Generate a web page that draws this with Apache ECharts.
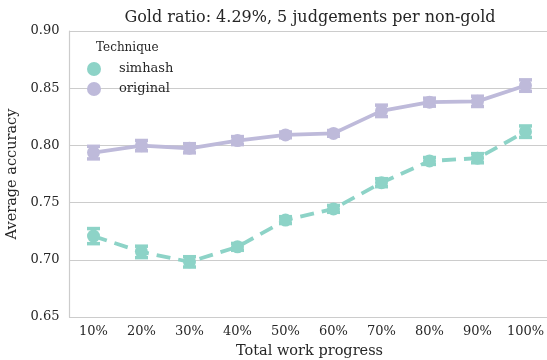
<!DOCTYPE html>
<html>
<head>
<meta charset="utf-8">
<script src="https://cdn.jsdelivr.net/npm/echarts@6/dist/echarts.min.js"></script>
<style>
  html, body { margin: 0; padding: 0; background: #fff; }
  #chart { width: 547px; height: 360px; }
</style>
</head>
<body>
<div id="chart"></div>
<script>
// Accuracy per work-progress step, with half-width of the confidence interval
const categories = ['10%', '20%', '30%', '40%', '50%', '60%', '70%', '80%', '90%', '100%'];
const simhashMean = [0.7207, 0.7069, 0.6982, 0.7113, 0.7347, 0.7445, 0.7674, 0.7864, 0.7888, 0.8120];
const simhashErr  = [0.0066, 0.0050, 0.0045, 0.0030, 0.0030, 0.0030, 0.0035, 0.0030, 0.0040, 0.0050];
const originalMean = [0.7937, 0.7998, 0.7975, 0.8042, 0.8092, 0.8105, 0.8302, 0.8378, 0.8385, 0.8523];
const originalErr  = [0.0055, 0.0045, 0.0040, 0.0035, 0.0025, 0.0025, 0.0050, 0.0035, 0.0045, 0.0050];
const yTicks = [0.65, 0.70, 0.75, 0.80, 0.85, 0.90];

const FONT = 'DejaVu Serif';
const TEXT = '#262626';
const GRID = '#cccccc';
const SIM_COLOR = '#8dd3c7';
const ORIG_COLOR = '#bebada';

function errorData(mean, err) {
  return mean.map((m, i) => [i, m - err[i], m + err[i]]);
}

function errorBars(color) {
  return function (params, api) {
    const x = api.value(0);
    const lo = api.coord([x, api.value(1)]);
    const hi = api.coord([x, api.value(2)]);
    const half = 6.5;
    const style = { stroke: color, lineWidth: 3.5 };
    return {
      type: 'group',
      children: [
        { type: 'line', shape: { x1: lo[0], y1: lo[1], x2: hi[0], y2: hi[1] }, style: style },
        { type: 'line', shape: { x1: lo[0] - half, y1: lo[1], x2: lo[0] + half, y2: lo[1] }, style: style },
        { type: 'line', shape: { x1: hi[0] - half, y1: hi[1], x2: hi[0] + half, y2: hi[1] }, style: style }
      ]
    };
  };
}

const chart = echarts.init(document.getElementById('chart'), null, { renderer: 'canvas' });

chart.setOption({
  animation: false,
  backgroundColor: '#ffffff',
  textStyle: { fontFamily: FONT, color: TEXT },
  title: [
    {
      text: 'Gold ratio: 4.29%, 5 judgements per non-gold',
      left: 305, textAlign: 'center', top: 5,
      textStyle: { fontFamily: FONT, fontSize: 16, fontWeight: 'normal', color: TEXT }
    },
    {
      text: 'Technique',
      left: 91, top: 37,
      textStyle: { fontFamily: FONT, fontSize: 12, fontWeight: 'normal', color: TEXT }
    }
  ],
  legend: {
    data: ['simhash', 'original'],
    orient: 'vertical',
    left: 82, top: 57,
    icon: 'circle',
    itemWidth: 14, itemHeight: 14,
    itemGap: 6,
    textStyle: { fontFamily: FONT, fontSize: 13, color: TEXT, padding: [0, 0, 0, 13] }
  },
  grid: {
    left: 69.5, width: 480, top: 31, height: 286,
    containLabel: false,
    outerBoundsMode: 'none'
  },
  xAxis: {
    type: 'category',
    data: categories,
    boundaryGap: true,
    name: 'Total work progress',
    nameLocation: 'middle',
    nameGap: 27,
    nameTextStyle: { fontFamily: FONT, fontSize: 14.5, color: TEXT },
    axisLine: { show: true, lineStyle: { color: GRID, width: 1.2 } },
    axisTick: { show: false },
    axisLabel: { fontFamily: FONT, fontSize: 13, color: TEXT, margin: 8, interval: 0, hideOverlap: false },
    splitLine: { show: false }
  },
  yAxis: {
    type: 'value',
    min: yTicks[0],
    max: yTicks[yTicks.length - 1],
    interval: 0.05,
    name: 'Average accuracy',
    nameLocation: 'middle',
    nameGap: 43,
    nameTextStyle: { fontFamily: FONT, fontSize: 14.5, color: TEXT },
    axisLine: { show: true, lineStyle: { color: GRID, width: 1.2 } },
    axisTick: { show: false },
    axisLabel: {
      fontFamily: FONT, fontSize: 13, color: TEXT, margin: 10,
      formatter: v => v.toFixed(2)
    },
    splitLine: { show: true, lineStyle: { color: GRID, width: 1.2 } }
  },
  series: [
    {
      name: 'simhash',
      type: 'line',
      data: simhashMean,
      color: SIM_COLOR,
      symbol: 'circle',
      symbolSize: 13,
      lineStyle: { width: 3.8, type: [14, 8], cap: 'butt' },
      itemStyle: { color: SIM_COLOR },
      z: 3
    },
    {
      name: 'simhash-ci',
      type: 'custom',
      data: errorData(simhashMean, simhashErr),
      renderItem: errorBars(SIM_COLOR),
      encode: { x: 0, y: [1, 2] },
      z: 3
    },
    {
      name: 'original',
      type: 'line',
      data: originalMean,
      color: ORIG_COLOR,
      symbol: 'circle',
      symbolSize: 13,
      lineStyle: { width: 3.8, type: 'solid' },
      itemStyle: { color: ORIG_COLOR },
      z: 3
    },
    {
      name: 'original-ci',
      type: 'custom',
      data: errorData(originalMean, originalErr),
      renderItem: errorBars(ORIG_COLOR),
      encode: { x: 0, y: [1, 2] },
      z: 3
    }
  ]
});
</script>
</body>
</html>
